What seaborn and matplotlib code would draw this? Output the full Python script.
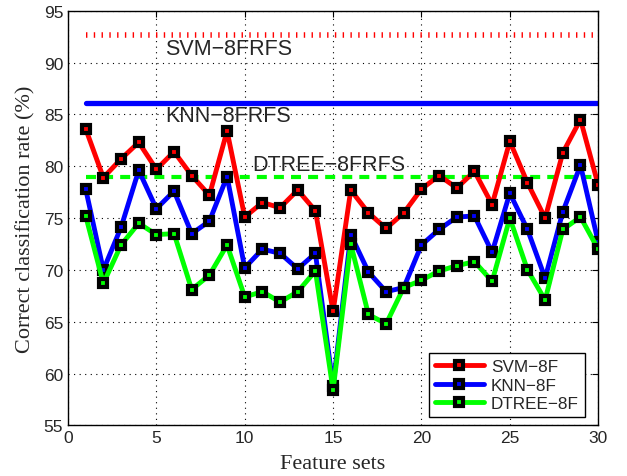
import matplotlib
matplotlib.use("Agg")
import matplotlib.pyplot as plt
import seaborn as sns
import pandas as pd
import numpy as np

feature_sets = list(range(1, 31))
svm_8f = [83.6, 78.9, 80.7, 82.3, 79.7, 81.4, 79.1, 77.2, 83.4, 75.1,
          76.5, 76.0, 77.7, 75.7, 66.0, 77.7, 75.5, 74.0, 75.5, 77.8,
          79.1, 77.9, 79.5, 76.3, 82.4, 78.4, 75.0, 81.3, 84.5, 78.2]
knn_8f = [77.8, 70.0, 74.1, 79.6, 75.9, 77.6, 73.5, 74.7, 79.0, 70.2,
          72.0, 71.6, 70.1, 71.6, 58.8, 73.4, 69.8, 67.9, 68.3, 72.4,
          73.9, 75.1, 75.2, 71.7, 77.4, 73.9, 69.2, 75.6, 80.1, 72.7]
dtree_8f = [75.2, 68.7, 72.4, 74.5, 73.4, 73.5, 68.1, 69.5, 72.4, 67.4,
            67.9, 66.9, 67.9, 69.9, 58.4, 72.5, 65.7, 64.8, 68.3, 69.0,
            69.9, 70.4, 70.8, 68.9, 75.0, 70.0, 67.1, 73.9, 75.1, 72.0]
series_names = ["SVM\u22128F", "KNN\u22128F", "DTREE\u22128F"]
series_colors = ["#ff0000", "#0000ff", "#00ff00"]

ref_x = [1, 30]
svm_ref = 92.7
knn_ref = 86.1
dtree_ref = 79.0
ref_labels = ["SVM\u22128FRFS", "KNN\u22128FRFS", "DTREE\u22128FRFS"]

sns.set_style("white")
plt.rcParams['font.family'] = ['Liberation Sans', 'DejaVu Sans']
plt.rcParams['xtick.direction'] = 'in'
plt.rcParams['ytick.direction'] = 'in'

fig = plt.figure(figsize=(6.27, 4.77), dpi=100)
ax = fig.add_axes([0.1085, 0.106, 0.8455, 0.8695])

# reference lines
sns.lineplot(x=ref_x, y=[svm_ref, svm_ref], ax=ax, color="#ff0000", lw=4,
             linestyle=(0, (0.25, 1.15)), dash_capstyle='butt')
sns.lineplot(x=ref_x, y=[knn_ref, knn_ref], ax=ax, color="#0000ff", lw=3.8)
sns.lineplot(x=ref_x, y=[dtree_ref, dtree_ref], ax=ax, color="#00ff00", lw=3,
             linestyle=(0, (2.4, 1.7)))

for vals, name, col in zip([svm_8f, knn_8f, dtree_8f], series_names, series_colors):
    df = pd.DataFrame({"x": feature_sets, "y": vals})
    sns.lineplot(data=df, x="x", y="y", ax=ax, color=col, lw=3.5, label=name,
                 marker='s', markersize=6, markerfacecolor=col,
                 markeredgecolor='black', markeredgewidth=3)

ax.text(5.5, 90.85, ref_labels[0], fontsize=15.5, va='baseline', ha='left')
ax.text(5.5, 84.4, ref_labels[1], fontsize=15.5, va='baseline', ha='left')
ax.text(10.45, 79.6, ref_labels[2], fontsize=15.5, va='baseline', ha='left')

ax.set_xlim(0, 30)
ax.set_ylim(55, 95)
ax.set_xticks(range(0, 31, 5))
ax.set_yticks(range(55, 96, 5))
ax.tick_params(labelsize=12.5, top=True, right=True, length=4, color='black')
ax.grid(True, linestyle=(0, (1, 4)), color='black', lw=0.8)
for s in ax.spines.values():
    s.set_visible(True)
    s.set_color('black')
    s.set_linewidth(1.0)

ax.set_xlabel("Feature sets", fontsize=16, family=['Liberation Serif'], labelpad=6)
ax.set_ylabel("Correct classification rate (%)", fontsize=16,
              family=['Liberation Serif'], labelpad=6)

leg = ax.legend(loc='lower right', fontsize=12.3, frameon=True, fancybox=False,
                edgecolor='black', framealpha=1, handlelength=2.9,
                borderpad=0.35, labelspacing=0.2, handletextpad=0.4,
                borderaxespad=0, bbox_to_anchor=(0.975, 0.02))
leg.get_frame().set_linewidth(1.0)

fig.savefig("out.png", dpi=100)
